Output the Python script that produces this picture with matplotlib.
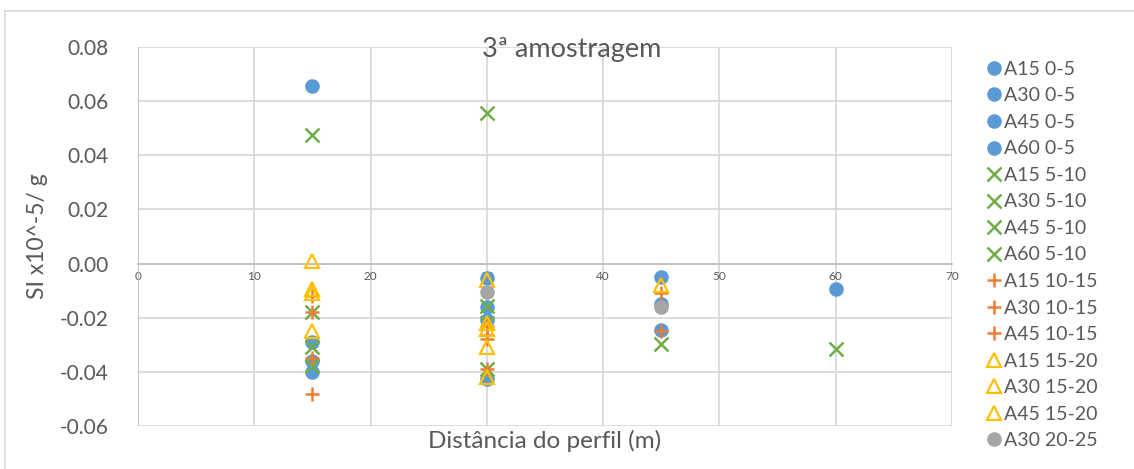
"""Magnetic susceptibility by profile distance, 3rd sampling campaign.
Excel-style scatter: one series per sampling point and depth range."""
import matplotlib
matplotlib.use("Agg")
import matplotlib.pyplot as plt  # noqa: E402
from matplotlib.lines import Line2D  # noqa: E402

plt.rcParams.update({"font.family": ["Lato", "DejaVu Sans"],
                     "axes.unicode_minus": False})

# series: label, distance along the profile (m), readings
labels = ["A15 0-5", "A30 0-5", "A45 0-5", "A60 0-5",
          "A15 5-10", "A30 5-10", "A45 5-10", "A60 5-10",
          "A15 10-15", "A30 10-15", "A45 10-15",
          "A15 15-20", "A30 15-20", "A45 15-20",
          "A30 20-25", "A45 20-25"]
distance = [15, 30, 45, 60,
            15, 30, 45, 60,
            15, 30, 45,
            15, 30, 45,
            30, 45]
depth = ["0-5"] * 4 + ["5-10"] * 4 + ["10-15"] * 3 + ["15-20"] * 3 + ["20-25"] * 2
readings = [
    [0.0655, -0.029, -0.036, -0.040],
    [-0.0052, -0.016, -0.021, -0.0425],
    [-0.0050, -0.0148, -0.0245],
    [-0.0093],
    [0.0475, -0.018, -0.031, -0.038],
    [0.0555, -0.0155, -0.022, -0.039],
    [-0.0296],
    [-0.0315],
    [-0.012, -0.018, -0.035, -0.048],
    [-0.023, -0.0265, -0.028, -0.039],
    [-0.011, -0.0248],
    [0.001, -0.0095, -0.011, -0.025],
    [-0.006, -0.022, -0.024, -0.031, -0.042],
    [-0.0078],
    [-0.0105],
    [-0.016],
]
in_legend = [True] * 15 + [False]

STYLE = {
    "0-5": dict(marker="o", ms=10.5, mfc="#5b9bd5", mec="#5b9bd5", mew=0),
    "5-10": dict(marker="x", ms=9.5, mfc="none", mec="#70ad47", mew=1.8),
    "10-15": dict(marker="+", ms=10, mfc="none", mec="#ed7d31", mew=1.8),
    "15-20": dict(marker="^", ms=10, mfc="none", mec="#ffc000", mew=1.6),
    "20-25": dict(marker="o", ms=10.5, mfc="#a5a5a5", mec="#a5a5a5", mew=0),
}
GRID = "#d9d9d9"
TXT = "#595959"

fig = plt.figure(figsize=(11.34, 4.69), dpi=100)
ax = fig.add_axes([138 / 1134, 1 - 426 / 469, (952 - 138) / 1134, (426 - 47) / 469])

handles = []
for lab, x, ys, d, show in zip(labels, distance, readings, depth, in_legend):
    ln, = ax.plot([x] * len(ys), ys, ls="none", label=lab, zorder=3, clip_on=False,
                  **STYLE[d])
    if show:
        handles.append(ln)

ax.set_xlim(0, 70)
ax.set_ylim(-0.06, 0.08)
ax.set_xticks(range(0, 71, 10))
ax.set_yticks([-0.06, -0.04, -0.02, 0.0, 0.02, 0.04, 0.06, 0.08])
ax.yaxis.set_major_formatter(matplotlib.ticker.FormatStrFormatter("%.2f"))
ax.grid(True, color=GRID, lw=1.3, zorder=0)
ax.set_axisbelow(True)

for sp in ("top", "right"):
    ax.spines[sp].set_visible(False)
ax.spines["left"].set_visible(False)
ax.spines["bottom"].set_position(("data", 0))
ax.spines["bottom"].set_color("#bfbfbf")
ax.spines["bottom"].set_linewidth(1.3)
ax.tick_params(axis="x", length=0, labelsize=8.5, labelcolor=TXT, pad=5)
ax.tick_params(axis="y", length=0, labelsize=15, labelcolor=TXT, pad=21)
ax.axvline(0, color="#bfbfbf", lw=1.3, zorder=1)

fig.text(572 / 1134, 1 - 50 / 469, "3ª amostragem", ha="center", va="center",
         fontsize=19.5, color=TXT)
fig.text(545 / 1134, 1 - 441 / 469, "Distância do perfil (m)", ha="center",
         va="center", fontsize=17.5, color=TXT)
fig.text(38 / 1134, 1 - 236 / 469, "SI x10^-5/ g", ha="center", va="center",
         rotation=90, fontsize=16.5, color=TXT)

leg = fig.legend(handles=handles, loc="upper left",
                 bbox_to_anchor=(978 / 1134, 1 - 53 / 469), frameon=False,
                 fontsize=14, labelspacing=0.49, handlelength=0.8,
                 handletextpad=0.12, borderaxespad=0)
for t in leg.get_texts():
    t.set_color(TXT)

# chart area border
fig.add_artist(Line2D([5 / 1134, 1], [1 - 11 / 469] * 2, color=GRID, lw=1.2))
fig.add_artist(Line2D([5 / 1134] * 2, [0, 1 - 11 / 469], color=GRID, lw=1.2))

fig.savefig("out.png", dpi=100)
